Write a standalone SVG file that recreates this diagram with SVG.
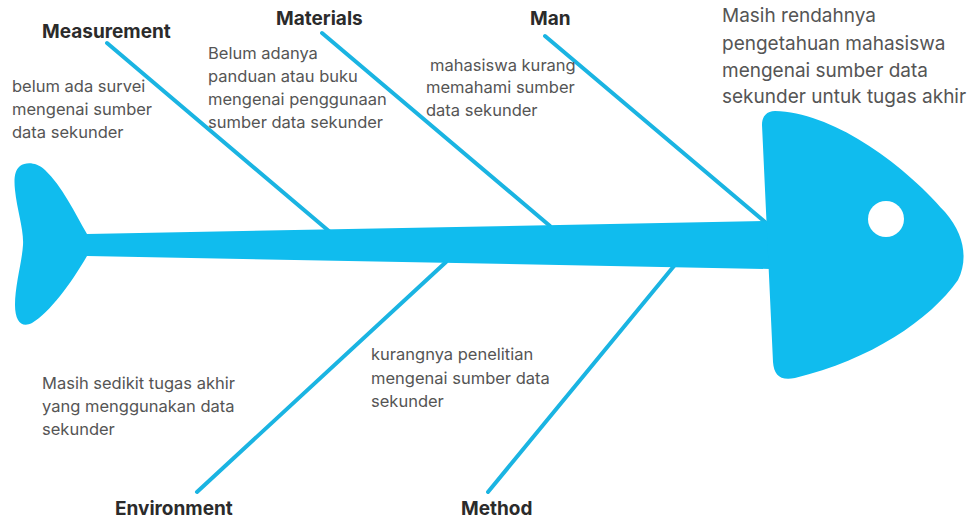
<svg xmlns="http://www.w3.org/2000/svg" width="970" height="519" viewBox="0 0 970 519">
<style>
.fish{fill:#10bcee}
.bone{stroke:#1ab4e2;stroke-width:4;stroke-linecap:round;fill:none}
.cat{font-family:Inter,"Liberation Sans",sans-serif;font-weight:700;font-size:19px;fill:#2b2b2b}
.cause{font-family:Inter,"Liberation Sans",sans-serif;font-size:16.5px;fill:#555}
.effect{font-family:Inter,"Liberation Sans",sans-serif;font-size:19px;fill:#555}
</style>
<rect width="970" height="519" fill="#fff"/>
<g id="connectors">
<line class="bone" x1="107" y1="43" x2="330" y2="232"/>
<line class="bone" x1="322" y1="33" x2="550" y2="226"/>
<line class="bone" x1="545" y1="36" x2="765" y2="222"/>
<line class="bone" x1="197" y1="492" x2="446" y2="262"/>
<line class="bone" x1="488" y1="492" x2="674" y2="266"/>
</g>
<g id="fish">
<path class="fish" d="M87 234 C75 213 62 186 45 170 C36 162 26 162 20 166 C14 171 14 180 15 190 C17 210 24 230 23 245 C22 262 15 285 15 305 C15 322 22 328 32 323 C50 312 70 285 87 256 L770 269 L770 221 Z"/>
<path class="fish" d="M775 111 C830 112 900 160 945 212 C965 235 968 260 958 280 C930 320 870 360 795 378 C780 381 774 375 773 362 L762 125 C762 116 767 111 775 111 Z"/>
<circle cx="886" cy="219" r="18" fill="#fff"/>
</g>
<g id="effect">
<text class="effect"><tspan x="722" y="22">Masih rendahnya</tspan><tspan x="722" y="50">pengetahuan mahasiswa</tspan><tspan x="722" y="77">mengenai sumber data</tspan><tspan x="722" y="103">sekunder untuk tugas akhir</tspan></text>
</g>
<g id="measurement">
<text class="cat" x="42" y="38">Measurement</text>
<text class="cause"><tspan x="12" y="92">belum ada survei</tspan><tspan x="12" y="115">mengenai sumber</tspan><tspan x="12" y="138">data sekunder</tspan></text>
</g>
<g id="materials">
<text class="cat" x="276" y="25">Materials</text>
<text class="cause"><tspan x="208" y="59">Belum adanya</tspan><tspan x="208" y="82">panduan atau buku</tspan><tspan x="208" y="105">mengenai penggunaan</tspan><tspan x="208" y="128">sumber data sekunder</tspan></text>
</g>
<g id="man">
<text class="cat" x="530" y="25">Man</text>
<text class="cause" font-size="15"><tspan x="430" y="71">mahasiswa kurang</tspan><tspan x="426" y="93">memahami sumber</tspan><tspan x="426" y="116">data sekunder</tspan></text>
</g>
<g id="environment">
<text class="cat" x="115" y="515">Environment</text>
<text class="cause"><tspan x="42" y="389">Masih sedikit tugas akhir</tspan><tspan x="42" y="412">yang menggunakan data</tspan><tspan x="42" y="435">sekunder</tspan></text>
</g>
<g id="method">
<text class="cat" x="461" y="515">Method</text>
<text class="cause"><tspan x="371" y="360">kurangnya penelitian</tspan><tspan x="371" y="384">mengenai sumber data</tspan><tspan x="371" y="407">sekunder</tspan></text>
</g>
</svg>
